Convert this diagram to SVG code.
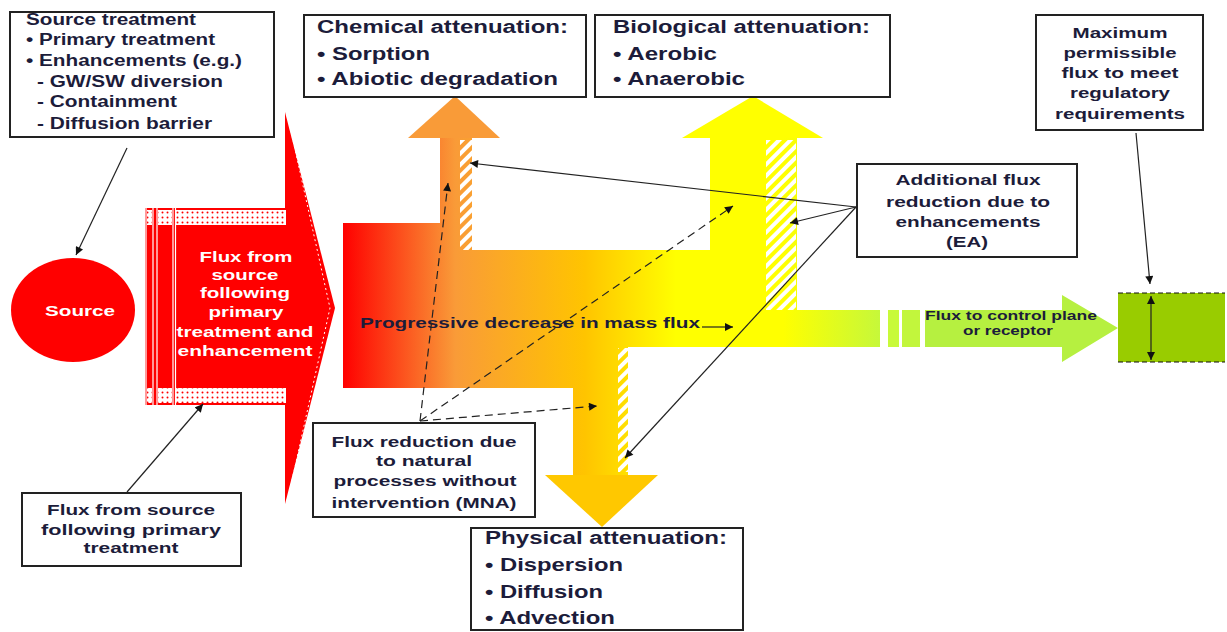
<svg xmlns="http://www.w3.org/2000/svg" width="1227" height="632" viewBox="0 0 1227 632">
<style>
.box{fill:#fff;stroke:#222;stroke-width:2}
.t{font-family:"Liberation Sans",Arial,sans-serif;font-weight:bold;fill:#1c1c3a}
.w{font-family:"Liberation Sans",Arial,sans-serif;font-weight:bold;fill:#fff}
.c{fill:none;stroke:#222;stroke-width:1.2}
.d{fill:none;stroke:#222;stroke-width:1.2;stroke-dasharray:8 5}
</style>
<defs>
<marker id="ah" viewBox="0 0 10 10" refX="10" refY="5" markerUnits="userSpaceOnUse" markerWidth="9" markerHeight="8" orient="auto-start-reverse"><path d="M0,0 L10,5 L0,10 z" fill="#111"/></marker>
<linearGradient id="flux" gradientUnits="userSpaceOnUse" x1="343" y1="0" x2="880" y2="0">
<stop offset="0" stop-color="#ff0000"/>
<stop offset="0.209" stop-color="#f99b38"/>
<stop offset="0.45" stop-color="#ffc400"/>
<stop offset="0.62" stop-color="#ffff00"/>
<stop offset="0.82" stop-color="#ffff00"/>
<stop offset="1" stop-color="#c6f83a"/>
</linearGradient>
<pattern id="hatch" patternUnits="userSpaceOnUse" width="8" height="8" patternTransform="rotate(45)"><rect x="0" y="0" width="4" height="8" fill="#fff"/></pattern>
<pattern id="dots" patternUnits="userSpaceOnUse" width="5" height="5"><rect width="5" height="5" fill="#fff"/><circle cx="2.5" cy="2.5" r="1" fill="#f00"/></pattern>
</defs>

<g id="main-flux">
<polygon points="343,223 440,223 440,138 472,138 472,250 710,250 710,138 797,138 797,310 880,310 880,347 628,347 628,475 573,475 573,388 343,388" fill="url(#flux)"/>
<polygon points="408,138 455,96 500,138" fill="#f99b38"/>
<polygon points="682,138 753,96 823,138" fill="#ffff00"/>
<polygon points="545,475 602,527 658,475" fill="#ffc800"/>
<rect x="460" y="140" width="12" height="110" fill="url(#hatch)"/>
<rect x="766" y="140" width="30" height="170" fill="url(#hatch)"/>
<rect x="618" y="348" width="10" height="124" fill="url(#hatch)"/>
<text class="t" x="360" y="328" font-size="15" textLength="340" lengthAdjust="spacingAndGlyphs">Progressive decrease in mass flux</text>
</g>

<g id="control-flux">
<rect x="888" y="310" width="11" height="37" fill="#c8fa3a"/>
<rect x="902" y="310" width="18" height="37" fill="#c2f63c"/>
<polygon points="925,310 1062,310 1062,295 1118,328 1062,362 1062,347 925,347" fill="#b6f040"/>
<text class="t" x="1011" y="320" font-size="12" text-anchor="middle" textLength="172" lengthAdjust="spacingAndGlyphs">Flux to control plane</text>
<text class="t" x="1008" y="335" font-size="12" text-anchor="middle" textLength="90" lengthAdjust="spacingAndGlyphs">or receptor</text>
</g>

<g id="receptor">
<rect x="1118" y="293" width="107" height="69" fill="#99cc00"/>
<line x1="1118" y1="293" x2="1225" y2="293" stroke="#111" stroke-width="1.2" stroke-dasharray="5 3"/>
<line x1="1118" y1="362" x2="1225" y2="362" stroke="#111" stroke-width="1.2" stroke-dasharray="5 3"/>
</g>

<g id="source">
<ellipse cx="73" cy="310" rx="62" ry="52" fill="#ff0000"/>
<text class="w" x="80" y="316" font-size="15" text-anchor="middle" textLength="70" lengthAdjust="spacingAndGlyphs">Source</text>
</g>

<g id="red-flux">
<rect x="145" y="208" width="142" height="197" fill="#ff0000"/>
<polygon points="285,112 335,308 285,504" fill="#ff0000"/>
<polyline points="289,122 330,308 289,494" fill="none" stroke="#fff" stroke-width="1" stroke-dasharray="2 3"/>
<rect x="147" y="210" width="5" height="15" fill="url(#dots)"/>
<rect x="158" y="210" width="14" height="15" fill="url(#dots)"/>
<rect x="176" y="210" width="110" height="15" fill="url(#dots)"/>
<rect x="147" y="388" width="5" height="15" fill="url(#dots)"/>
<rect x="158" y="388" width="14" height="15" fill="url(#dots)"/>
<rect x="176" y="388" width="110" height="15" fill="url(#dots)"/>
<g stroke="#fff" stroke-width="1.2">
<line x1="146" y1="208" x2="146" y2="405"/>
<line x1="153" y1="208" x2="153" y2="405"/>
<line x1="157" y1="208" x2="157" y2="405"/>
<line x1="173" y1="208" x2="173" y2="405"/>
<line x1="175.5" y1="208" x2="175.5" y2="405"/>
</g>
<text class="w" x="246" y="262" font-size="15" text-anchor="middle" textLength="93" lengthAdjust="spacingAndGlyphs">Flux from</text>
<text class="w" x="245" y="280" font-size="15" text-anchor="middle" textLength="67" lengthAdjust="spacingAndGlyphs">source</text>
<text class="w" x="245" y="298" font-size="15" text-anchor="middle" textLength="90" lengthAdjust="spacingAndGlyphs">following</text>
<text class="w" x="246" y="317" font-size="15" text-anchor="middle" textLength="75" lengthAdjust="spacingAndGlyphs">primary</text>
<text class="w" x="245" y="337" font-size="15" text-anchor="middle" textLength="137" lengthAdjust="spacingAndGlyphs">treatment and</text>
<text class="w" x="245" y="356" font-size="15" text-anchor="middle" textLength="135" lengthAdjust="spacingAndGlyphs">enhancement</text>
</g>

<g id="source-treatment">
<rect class="box" x="10" y="12" width="264" height="125"/>
<text class="t" x="26" y="25" font-size="16" textLength="170" lengthAdjust="spacingAndGlyphs">Source treatment</text>
<text class="t" x="26" y="45" font-size="16" textLength="189" lengthAdjust="spacingAndGlyphs">• Primary treatment</text>
<text class="t" x="26" y="66" font-size="16" textLength="216" lengthAdjust="spacingAndGlyphs">• Enhancements (e.g.)</text>
<text class="t" x="37" y="87" font-size="16" textLength="186" lengthAdjust="spacingAndGlyphs">- GW/SW diversion</text>
<text class="t" x="37" y="107" font-size="16" textLength="140" lengthAdjust="spacingAndGlyphs">- Containment</text>
<text class="t" x="37" y="129" font-size="16" textLength="175" lengthAdjust="spacingAndGlyphs">- Diffusion barrier</text>
</g>

<g id="chemical">
<rect class="box" x="304" y="15" width="282" height="82"/>
<text class="t" x="317" y="33" font-size="18" textLength="251" lengthAdjust="spacingAndGlyphs">Chemical attenuation:</text>
<text class="t" x="317" y="60" font-size="18" textLength="113" lengthAdjust="spacingAndGlyphs">• Sorption</text>
<text class="t" x="317" y="85" font-size="18" textLength="241" lengthAdjust="spacingAndGlyphs">• Abiotic degradation</text>
</g>

<g id="biological">
<rect class="box" x="595" y="15" width="295" height="82"/>
<text class="t" x="613" y="33" font-size="18" textLength="257" lengthAdjust="spacingAndGlyphs">Biological attenuation:</text>
<text class="t" x="613" y="60" font-size="18" textLength="104" lengthAdjust="spacingAndGlyphs">• Aerobic</text>
<text class="t" x="613" y="85" font-size="18" textLength="132" lengthAdjust="spacingAndGlyphs">• Anaerobic</text>
</g>

<g id="max-permissible">
<rect class="box" x="1036" y="15" width="167" height="115"/>
<text class="t" x="1120" y="38" font-size="14" text-anchor="middle" textLength="95" lengthAdjust="spacingAndGlyphs">Maximum</text>
<text class="t" x="1120" y="58" font-size="14" text-anchor="middle" textLength="113" lengthAdjust="spacingAndGlyphs">permissible</text>
<text class="t" x="1120" y="78" font-size="14" text-anchor="middle" textLength="117" lengthAdjust="spacingAndGlyphs">flux to meet</text>
<text class="t" x="1120" y="98" font-size="14" text-anchor="middle" textLength="100" lengthAdjust="spacingAndGlyphs">regulatory</text>
<text class="t" x="1120" y="119" font-size="14" text-anchor="middle" textLength="130" lengthAdjust="spacingAndGlyphs">requirements</text>
</g>

<g id="additional-flux">
<rect class="box" x="857" y="164" width="220" height="93"/>
<text class="t" x="968" y="185" font-size="14" text-anchor="middle" textLength="145" lengthAdjust="spacingAndGlyphs">Additional flux</text>
<text class="t" x="968" y="207" font-size="14" text-anchor="middle" textLength="164" lengthAdjust="spacingAndGlyphs">reduction due to</text>
<text class="t" x="968" y="227" font-size="14" text-anchor="middle" textLength="145" lengthAdjust="spacingAndGlyphs">enhancements</text>
<text class="t" x="967" y="247" font-size="14" text-anchor="middle" textLength="42" lengthAdjust="spacingAndGlyphs">(EA)</text>
</g>

<g id="mna">
<rect class="box" x="313" y="423" width="222" height="94"/>
<text class="t" x="424" y="447" font-size="14" text-anchor="middle" textLength="185" lengthAdjust="spacingAndGlyphs">Flux reduction due</text>
<text class="t" x="424" y="466" font-size="14" text-anchor="middle" textLength="96" lengthAdjust="spacingAndGlyphs">to natural</text>
<text class="t" x="425" y="486" font-size="14" text-anchor="middle" textLength="183" lengthAdjust="spacingAndGlyphs">processes without</text>
<text class="t" x="424" y="508" font-size="14" text-anchor="middle" textLength="185" lengthAdjust="spacingAndGlyphs">intervention (MNA)</text>
</g>

<g id="physical">
<rect class="box" x="471" y="528" width="272" height="102"/>
<text class="t" x="485" y="544" font-size="18" textLength="242" lengthAdjust="spacingAndGlyphs">Physical attenuation:</text>
<text class="t" x="485" y="571" font-size="18" textLength="138" lengthAdjust="spacingAndGlyphs">• Dispersion</text>
<text class="t" x="485" y="598" font-size="18" textLength="118" lengthAdjust="spacingAndGlyphs">• Diffusion</text>
<text class="t" x="485" y="624" font-size="18" textLength="130" lengthAdjust="spacingAndGlyphs">• Advection</text>
</g>

<g id="flux-primary">
<rect class="box" x="22" y="493" width="219" height="73"/>
<text class="t" x="131" y="515" font-size="14" text-anchor="middle" textLength="168" lengthAdjust="spacingAndGlyphs">Flux from source</text>
<text class="t" x="131" y="535" font-size="14" text-anchor="middle" textLength="180" lengthAdjust="spacingAndGlyphs">following  primary</text>
<text class="t" x="131" y="553" font-size="14" text-anchor="middle" textLength="95" lengthAdjust="spacingAndGlyphs">treatment</text>
</g>

<g id="connectors">
<line class="c" x1="127" y1="148" x2="76" y2="255" marker-end="url(#ah)"/>
<line class="c" x1="127" y1="492" x2="203" y2="404" marker-end="url(#ah)"/>
<line class="c" x1="1136" y1="133" x2="1150" y2="284" marker-end="url(#ah)"/>
<line class="c" x1="856" y1="207" x2="470" y2="163" marker-end="url(#ah)"/>
<line class="c" x1="856" y1="207" x2="790" y2="223" marker-end="url(#ah)"/>
<line class="c" x1="856" y1="207" x2="625" y2="458" marker-end="url(#ah)"/>
<line class="d" x1="420" y1="421" x2="448" y2="183" marker-end="url(#ah)"/>
<line class="d" x1="420" y1="421" x2="733" y2="206" marker-end="url(#ah)"/>
<line class="d" x1="420" y1="421" x2="597" y2="406" marker-end="url(#ah)"/>
<line class="c" x1="702" y1="327" x2="733" y2="327" marker-end="url(#ah)"/>
<line class="c" x1="1151" y1="296" x2="1151" y2="360" marker-start="url(#ah)" marker-end="url(#ah)"/>
</g>
</svg>
